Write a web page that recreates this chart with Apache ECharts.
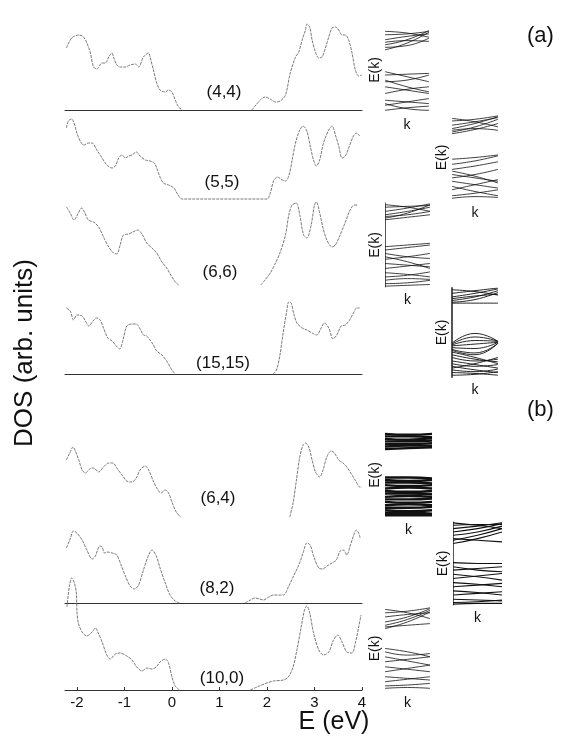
<!DOCTYPE html>
<html>
<head>
<meta charset="utf-8">
<script src="https://cdn.jsdelivr.net/npm/echarts@6/dist/echarts.min.js"></script>
<style>
html,body{margin:0;padding:0;background:#fff;}
#chart{width:561px;height:739px;}
</style>
</head>
<body>
<div id="chart"></div>
<script>
// DOS curves, [E (eV), DOS arb. units]; null = break in the curve
const dos44 = [[-2.22,0.62],[-2.11,0.72],[-1.96,0.75],[-1.86,0.73],[-1.79,0.67],[-1.72,0.58],[-1.65,0.43],[-1.58,0.41],[-1.47,0.47],[-1.40,0.47],[-1.33,0.53],[-1.26,0.57],[-1.23,0.53],[-1.16,0.45],[-1.09,0.43],[-0.98,0.43],[-0.88,0.45],[-0.77,0.46],[-0.70,0.43],[-0.60,0.53],[-0.49,0.57],[-0.46,0.53],[-0.39,0.40],[-0.32,0.27],[-0.25,0.20],[-0.14,0.18],[-0.07,0.20],[0.00,0.18],[0.07,0.10],[0.14,0.03],[0.22,0],null,
  [1.68,0],[1.75,0.04],[1.86,0.10],[1.96,0.13],[2.07,0.11],[2.18,0.08],[2.28,0.09],[2.39,0.15],[2.49,0.37],[2.60,0.53],[2.67,0.58],[2.74,0.70],[2.81,0.80],[2.84,0.86],[2.90,0.83],[2.95,0.70],[3.02,0.58],[3.09,0.52],[3.16,0.53],[3.23,0.62],[3.30,0.73],[3.37,0.82],[3.44,0.83],[3.51,0.80],[3.58,0.75],[3.65,0.75],[3.72,0.70],[3.79,0.57],[3.86,0.40],[3.93,0.34],[4.00,0.35]];
const dos55 = [[-2.22,0.71],[-2.18,0.78],[-2.11,0.80],[-2.06,0.76],[-2.00,0.66],[-1.93,0.58],[-1.86,0.54],[-1.75,0.56],[-1.68,0.56],[-1.58,0.49],[-1.47,0.41],[-1.37,0.34],[-1.26,0.31],[-1.19,0.33],[-1.12,0.41],[-1.05,0.44],[-0.98,0.41],[-0.91,0.43],[-0.84,0.44],[-0.75,0.47],[-0.67,0.43],[-0.56,0.39],[-0.46,0.38],[-0.37,0.36],[-0.32,0.31],[-0.26,0.23],[-0.18,0.16],[-0.07,0.14],[0.04,0.11],[0.13,0.04],[0.21,0],
  [2.00,0],[2.07,0.06],[2.14,0.18],[2.22,0.22],[2.32,0.19],[2.39,0.18],[2.46,0.23],[2.53,0.39],[2.60,0.56],[2.69,0.69],[2.76,0.73],[2.84,0.68],[2.91,0.53],[2.98,0.39],[3.04,0.33],[3.11,0.39],[3.19,0.56],[3.30,0.69],[3.37,0.73],[3.44,0.64],[3.51,0.53],[3.58,0.41],[3.65,0.43],[3.72,0.51],[3.82,0.63],[3.89,0.66],[3.95,0.63]];
const dos66 = [[-2.22,0.78],[-2.14,0.72],[-2.06,0.65],[-1.99,0.70],[-1.90,0.77],[-1.83,0.72],[-1.76,0.65],[-1.65,0.63],[-1.54,0.58],[-1.44,0.48],[-1.33,0.38],[-1.23,0.32],[-1.16,0.31],[-1.09,0.40],[-1.02,0.50],[-0.91,0.51],[-0.82,0.53],[-0.72,0.55],[-0.63,0.51],[-0.53,0.42],[-0.42,0.37],[-0.32,0.32],[-0.21,0.23],[-0.11,0.17],[0.00,0.08],[0.07,0.03],[0.14,0],null,
  [1.87,0],[1.96,0.05],[2.07,0.12],[2.18,0.22],[2.28,0.33],[2.39,0.50],[2.46,0.70],[2.53,0.80],[2.62,0.82],[2.69,0.70],[2.77,0.50],[2.84,0.47],[2.93,0.60],[3.00,0.80],[3.04,0.83],[3.11,0.72],[3.18,0.57],[3.26,0.45],[3.37,0.38],[3.44,0.40],[3.54,0.50],[3.65,0.63],[3.75,0.75],[3.84,0.80],[3.91,0.80]];
const dos1515 = [[-2.22,0.66],[-2.14,0.63],[-2.07,0.54],[-2.00,0.59],[-1.89,0.58],[-1.82,0.53],[-1.75,0.48],[-1.66,0.53],[-1.58,0.56],[-1.51,0.54],[-1.44,0.46],[-1.35,0.36],[-1.26,0.33],[-1.17,0.28],[-1.10,0.25],[-1.03,0.34],[-0.95,0.48],[-0.84,0.50],[-0.75,0.50],[-0.67,0.45],[-0.60,0.39],[-0.53,0.38],[-0.46,0.34],[-0.39,0.29],[-0.32,0.23],[-0.21,0.19],[-0.11,0.13],[0.00,0.04],[0.07,0],null,
  [2.13,0],[2.20,0.04],[2.27,0.18],[2.34,0.41],[2.41,0.61],[2.46,0.72],[2.51,0.71],[2.56,0.61],[2.63,0.51],[2.74,0.46],[2.84,0.44],[2.95,0.41],[3.05,0.39],[3.14,0.46],[3.21,0.51],[3.30,0.46],[3.39,0.35],[3.47,0.39],[3.56,0.48],[3.65,0.49],[3.74,0.54],[3.82,0.61],[3.89,0.66],[3.95,0.66]];
const dos64 = [[-2.22,0.58],[-2.15,0.65],[-2.08,0.71],[-2.04,0.68],[-1.96,0.58],[-1.89,0.48],[-1.82,0.45],[-1.73,0.49],[-1.65,0.50],[-1.54,0.46],[-1.44,0.51],[-1.33,0.55],[-1.24,0.55],[-1.16,0.50],[-1.05,0.43],[-0.95,0.37],[-0.84,0.36],[-0.75,0.40],[-0.67,0.48],[-0.56,0.52],[-0.49,0.48],[-0.40,0.38],[-0.32,0.30],[-0.23,0.25],[-0.14,0.28],[-0.07,0.25],[0.00,0.16],[0.09,0.06],[0.18,0.01],null,
  [2.48,0.01],[2.55,0.15],[2.62,0.38],[2.69,0.61],[2.76,0.73],[2.81,0.75],[2.88,0.71],[2.95,0.58],[3.02,0.46],[3.11,0.41],[3.18,0.48],[3.26,0.61],[3.35,0.67],[3.42,0.65],[3.51,0.58],[3.60,0.55],[3.68,0.51],[3.79,0.43],[3.88,0.36],[3.95,0.31],[4.00,0.31]];
const dos82 = [[-2.22,0.55],[-2.15,0.63],[-2.07,0.72],[-2.00,0.70],[-1.89,0.63],[-1.79,0.53],[-1.68,0.44],[-1.61,0.47],[-1.52,0.57],[-1.47,0.56],[-1.42,0.50],[-1.37,0.51],[-1.26,0.50],[-1.16,0.48],[-1.07,0.38],[-0.98,0.27],[-0.88,0.17],[-0.79,0.14],[-0.70,0.18],[-0.60,0.33],[-0.49,0.48],[-0.42,0.53],[-0.33,0.47],[-0.25,0.35],[-0.14,0.20],[-0.04,0.08],[0.07,0.02],[0.16,0],null,
  [1.54,0],[1.65,0.03],[1.75,0.05],[1.84,0.04],[1.93,0.03],[2.04,0.06],[2.14,0.08],[2.28,0.08],[2.35,0.08],[2.46,0.17],[2.56,0.27],[2.67,0.38],[2.76,0.50],[2.84,0.60],[2.91,0.58],[2.98,0.47],[3.09,0.35],[3.18,0.34],[3.26,0.37],[3.37,0.40],[3.46,0.43],[3.54,0.52],[3.61,0.53],[3.68,0.48],[3.75,0.57],[3.82,0.67],[3.88,0.73],[3.93,0.70],[3.96,0.65]];
const dos100 = [[-2.21,0.83],[-2.16,1.03],[-2.11,1.12],[-2.06,1.08],[-2.01,0.97],[-2.00,0.80],[-1.97,0.67],[-1.89,0.58],[-1.79,0.54],[-1.68,0.58],[-1.61,0.62],[-1.55,0.57],[-1.47,0.48],[-1.37,0.35],[-1.30,0.31],[-1.19,0.36],[-1.09,0.37],[-0.95,0.34],[-0.84,0.30],[-0.74,0.23],[-0.63,0.19],[-0.53,0.22],[-0.42,0.21],[-0.33,0.23],[-0.25,0.28],[-0.14,0.31],[-0.07,0.27],[0.00,0.13],[0.07,0.04],[0.16,0],null,
  [1.65,0],[1.79,0.03],[2.00,0.07],[2.14,0.09],[2.35,0.10],[2.45,0.13],[2.55,0.23],[2.63,0.40],[2.72,0.63],[2.79,0.80],[2.84,0.84],[2.90,0.77],[2.98,0.57],[3.09,0.40],[3.19,0.35],[3.30,0.38],[3.40,0.50],[3.49,0.55],[3.58,0.48],[3.68,0.38],[3.79,0.37],[3.86,0.47],[3.93,0.63],[3.98,0.75]];

const panelNames = ['(4,4)', '(5,5)', '(6,6)', '(15,15)', '(6,4)', '(8,2)', '(10,0)'];
const energyTicks = [-2, -1, 0, 1, 2, 3, 4];

// band structure insets: each band = E(k) at k = 0, 0.5, 1 (arb. units)
const bandK = [0, 0.5, 1];
const bands44 = [[0.74,0.82,0.95],[0.80,0.86,0.97],[0.86,0.90,0.93],[0.92,0.93,0.96],[0.96,0.94,0.89],[0.83,0.85,0.84],[0.77,0.79,0.88],
  [0.48,0.42,0.36],[0.44,0.45,0.46],[0.36,0.38,0.44],[0.30,0.26,0.22],[0.22,0.27,0.30],[0.14,0.12,0.10],[0.08,0.12,0.16],[0.02,0.05,0.07],[0.10,0.04,0.02],[0.38,0.30,0.24]];
const bands55 = [[0.80,0.86,0.95],[0.84,0.90,0.98],[0.78,0.83,0.90],[0.88,0.92,0.97],[0.93,0.95,0.99],[0.96,0.92,0.86],[0.82,0.84,0.82],
  [0.48,0.50,0.53],[0.42,0.46,0.52],[0.36,0.40,0.45],[0.30,0.26,0.22],[0.34,0.28,0.20],[0.22,0.18,0.14],[0.12,0.18,0.24],[0.16,0.10,0.05],[0.05,0.08,0.12],[0.02,0.04,0.03],[0.26,0.30,0.36]];
const bands66 = [[0.82,0.88,0.98],[0.86,0.90,0.95],[0.90,0.94,0.99],[0.95,0.96,0.97],[0.84,0.86,0.90],[0.98,0.95,0.90],[0.80,0.83,0.86],
  [0.48,0.50,0.52],[0.44,0.47,0.50],[0.40,0.36,0.34],[0.33,0.36,0.40],[0.28,0.26,0.24],[0.22,0.25,0.28],[0.17,0.15,0.12],[0.12,0.14,0.18],[0.08,0.10,0.09],[0.04,0.05,0.08],[0.01,0.02,0.03],[0.36,0.30,0.22]];
const bands1515 = [[0.86,0.90,0.97],[0.90,0.94,0.99],[0.94,0.97,1.00],[0.88,0.91,0.93],[0.98,0.96,0.92],[0.84,0.87,0.95],[0.83,0.83,0.83],
  [0.38,0.49,0.40],[0.37,0.45,0.40],[0.36,0.41,0.40],[0.35,0.37,0.39],[0.33,0.32,0.39],[0.31,0.27,0.38],[0.30,0.25,0.38],
  [0.28,0.22,0.15],[0.25,0.20,0.17],[0.22,0.18,0.20],[0.18,0.14,0.10],[0.15,0.12,0.14],[0.12,0.08,0.05],[0.08,0.06,0.09],[0.05,0.04,0.02],[0.02,0.03,0.06],[0.10,0.15,0.22]];
const bands64 = [[0.81,0.82,0.83],[0.84,0.85,0.85],[0.87,0.87,0.88],[0.90,0.90,0.91],[0.93,0.92,0.94],[0.96,0.96,0.95],[0.99,0.98,0.99],
  [0.47,0.47,0.46],[0.44,0.43,0.44],[0.41,0.41,0.40],[0.38,0.37,0.38],[0.34,0.35,0.34],[0.31,0.30,0.31],[0.28,0.28,0.27],[0.24,0.25,0.24],[0.21,0.21,0.22],[0.18,0.17,0.18],[0.14,0.15,0.14],[0.11,0.11,0.12],[0.08,0.07,0.08],[0.05,0.05,0.04],[0.02,0.02,0.02]];
const bands82 = [[0.74,0.80,0.88],[0.78,0.84,0.92],[0.84,0.88,0.95],[0.88,0.92,0.98],[0.92,0.95,0.99],[0.96,0.97,0.97],[0.99,0.96,0.92],[0.80,0.78,0.76],
  [0.51,0.50,0.50],[0.46,0.42,0.40],[0.42,0.44,0.46],[0.37,0.34,0.30],[0.32,0.35,0.38],[0.27,0.25,0.22],[0.22,0.24,0.26],[0.17,0.15,0.12],[0.12,0.14,0.16],[0.07,0.06,0.05],[0.03,0.04,0.06],[0.01,0.02,0.02]];
const bands100 = [[0.74,0.82,0.94],[0.78,0.85,0.96],[0.82,0.88,0.98],[0.88,0.91,0.93],[0.93,0.95,0.99],[0.97,0.93,0.86],[0.76,0.78,0.80],
  [0.50,0.46,0.40],[0.46,0.42,0.44],[0.40,0.35,0.30],[0.34,0.37,0.40],[0.28,0.25,0.22],[0.22,0.26,0.30],[0.16,0.14,0.12],[0.10,0.13,0.16],[0.05,0.06,0.08],[0.02,0.03,0.02]];

const FONT = 'Liberation Sans, Arial, sans-serif';
const chart = echarts.init(document.getElementById('chart'), null, {renderer: 'canvas'});

// layout
const dosCurves = [dos44, dos55, dos66, dos1515, dos64, dos82, dos100];
const baselines = [110, 199, 285, 374, 518, 603, 690];
const showBase = [true, false, false, true, false, true, true];
const labelPos = [[224,92],[222,182],[220,272],[223,363],[218,498],[217,588],[222,678]];
const insetBands = [bands44, bands55, bands66, bands1515, bands64, bands82, bands100];
const insetBox = [[385,28,44,84],[452,115,46,85],[385,203,45,84],[452,288,46,89],[385,433,47,84],[453,522,49,83],[385,607,45,83]];
const insetAxis = [false, false, true, true, false, true, false];
const insetWidth = [0.8, 0.8, 0.8, 0.9, 2.4, 1.1, 0.8];

const grids = [], xAxes = [], yAxes = [], series = [], graphics = [];

dosCurves.forEach((curve, i) => {
  grids.push({left: 65, width: 297, top: baselines[i] - 100, height: 100, outerBoundsMode: 'none'});
  const last = i === dosCurves.length - 1;
  xAxes.push({
    type: 'value', gridIndex: i, min: -2.25, max: 4,
    splitLine: {show: false},
    axisLine: {show: showBase[i], onZero: false, lineStyle: {color: '#333', width: 1}},
    axisTick: {show: last, inside: true, length: 3, customValues: energyTicks, lineStyle: {color: '#333'}},
    axisLabel: {show: last, customValues: energyTicks, fontSize: 15, fontFamily: FONT, color: '#111', margin: 5}
  });
  yAxes.push({type: 'value', gridIndex: i, min: 0, max: 1, show: false});
  series.push({
    type: 'line', xAxisIndex: i, yAxisIndex: i, clip: false, silent: true,
    showSymbol: false, smooth: 0.3, connectNulls: false,
    lineStyle: {color: '#7a7a7a', width: 1, type: [3, 1]},
    data: curve.map(p => p ? p : [1, '-'])
  });
  graphics.push({type: 'text', x: labelPos[i][0], y: labelPos[i][1],
    style: {text: panelNames[i], fontSize: 17, fontFamily: FONT, fill: '#111',
      align: 'center', verticalAlign: 'middle', textAlign: 'center', textVerticalAlign: 'middle'}});
});

insetBands.forEach((bands, j) => {
  const g = dosCurves.length + j;
  const b = insetBox[j];
  grids.push({left: b[0], top: b[1], width: b[2], height: b[3], outerBoundsMode: 'none'});
  xAxes.push({type: 'value', gridIndex: g, min: 0, max: 1,
    name: 'k', nameLocation: 'middle', nameGap: 6,
    nameTextStyle: {fontSize: 14, fontFamily: FONT, color: '#111'},
    axisLine: {show: false}, axisTick: {show: false}, axisLabel: {show: false}, splitLine: {show: false}});
  yAxes.push({type: 'value', gridIndex: g, min: 0, max: 1,
    name: 'E(k)', nameLocation: 'middle', nameGap: 3, nameRotate: 90,
    nameTextStyle: {fontSize: 14, fontFamily: FONT, color: '#111'},
    axisLine: {show: insetAxis[j], lineStyle: {color: '#555', width: j === 3 ? 2 : 1}},
    axisTick: {show: false}, axisLabel: {show: false}, splitLine: {show: false}});
  bands.forEach(band => {
    series.push({
      type: 'line', xAxisIndex: g, yAxisIndex: g, silent: true,
      showSymbol: false, smooth: true,
      lineStyle: {color: '#111', width: insetWidth[j]},
      data: bandK.map((k, n) => [k, band[n]])
    });
  });
});

graphics.push({type: 'text', x: 25, y: 353, rotation: Math.PI / 2,
  style: {text: 'DOS (arb. units)', fontSize: 26, fontFamily: FONT, fill: '#111',
    align: 'center', verticalAlign: 'middle', textAlign: 'center', textVerticalAlign: 'middle'}});
graphics.push({type: 'text', x: 334, y: 722,
  style: {text: 'E (eV)', fontSize: 25, fontFamily: FONT, fill: '#111',
    align: 'center', verticalAlign: 'middle', textAlign: 'center', textVerticalAlign: 'middle'}});
graphics.push({type: 'text', x: 527, y: 36,
  style: {text: '(a)', fontSize: 22, fontFamily: FONT, fill: '#111',
    align: 'left', verticalAlign: 'middle', textAlign: 'left', textVerticalAlign: 'middle'}});
graphics.push({type: 'text', x: 527, y: 410,
  style: {text: '(b)', fontSize: 22, fontFamily: FONT, fill: '#111',
    align: 'left', verticalAlign: 'middle', textAlign: 'left', textVerticalAlign: 'middle'}});

chart.setOption({
  animation: false,
  backgroundColor: '#fff',
  grid: grids,
  xAxis: xAxes,
  yAxis: yAxes,
  series: series,
  graphic: graphics
});
</script>
</body>
</html>
